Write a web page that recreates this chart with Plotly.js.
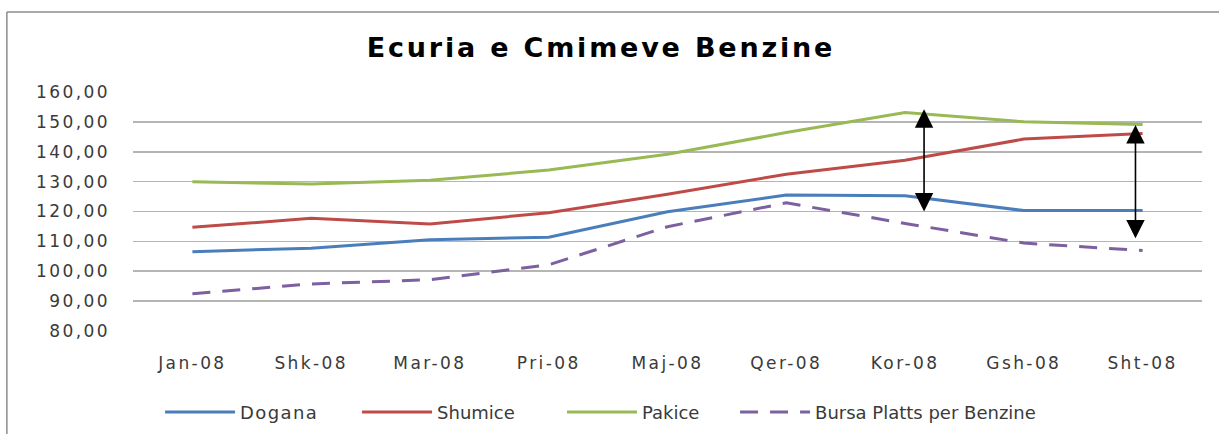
<!DOCTYPE html>
<html>
<head>
<meta charset="utf-8">
<script src="https://cdn.plot.ly/plotly-3.0.1.min.js"></script>
<style>
html,body{margin:0;padding:0;background:#fff;}
#chart{width:1219px;height:434px;}
.gtitle{letter-spacing:2.8px;}
.xtick text,.ytick text{letter-spacing:2.4px;}
.legendtext{letter-spacing:1.4px;}
</style>
</head>
<body>
<div id="chart"></div>
<script>
const months = ["Jan-08","Shk-08","Mar-08","Pri-08","Maj-08","Qer-08","Kor-08","Gsh-08","Sht-08"];
const dogana   = [106.5, 107.7, 110.5, 111.4, 119.9, 125.5, 125.3, 120.3, 120.3];
const shumice  = [114.7, 117.7, 115.8, 119.6, 125.8, 132.5, 137.2, 144.3, 146.2];
const pakice   = [130.0, 129.2, 130.5, 133.9, 139.2, 146.5, 153.2, 150.1, 149.2];
const bursa    = [92.4, 95.7, 97.1, 102.1, 114.9, 122.9, 116.0, 109.4, 106.9];
const yTicks   = [80, 90, 100, 110, 120, 130, 140, 150, 160];
const yTickText = ["80,00","90,00","100,00","110,00","120,00","130,00","140,00","150,00","160,00"];
// double-headed arrows (position along category axis, top value, bottom value)
const arrowX      = [6.16, 7.94];
const arrowTop    = [154.3, 149.0];
const arrowBottom = [119.5, 110.5];

const names = ["Dogana","Shumice","Pakice","Bursa Platts per Benzine"];
const series = [dogana, shumice, pakice, bursa];
const colors = ["#4A7EBB","#BE4B48","#98B954","#7D60A0"];
const dashes = ["solid","solid","solid","18px,12px"];
const legendIds = ["legend","legend2","legend3","legend4"];
const legendX = [0.1313, 0.2929, 0.4610, 0.6030];

const traces = series.map((s, i) => ({
  type: "scatter", mode: "lines", x: months, y: s, name: names[i], legend: legendIds[i],
  line: {color: colors[i], width: 3, dash: dashes[i]}
}));

const annotations = arrowX.map((ax, i) => ({
  x: ax, y: arrowTop[i], ax: ax, ay: arrowBottom[i],
  xref: "x", yref: "y", axref: "x", ayref: "y",
  text: "", showarrow: true, arrowhead: 2, startarrowhead: 2,
  arrowside: "end+start", arrowwidth: 1.6, arrowsize: 2.3, startarrowsize: 2.3,
  arrowcolor: "#000"
}));

const layout = {
  width: 1219, height: 434,
  margin: {l: 133, r: 17, t: 92, b: 103},
  paper_bgcolor: "#fff", plot_bgcolor: "#fff",
  title: {text: "Ecuria e Cmimeve Benzine", x: 0.493, xref: "container", y: 0.89, yref: "container", yanchor: "middle",
          font: {family: "DejaVu Sans", size: 27, color: "#000", weight: 700}},
  font: {family: "DejaVu Sans", color: "#3A3A3A"},
  xaxis: {type: "category", range: [-0.5, 8.5], showgrid: false, zeroline: false, showline: false,
          ticks: "", tickfont: {size: 17, color: "#3A3A3A"}, ticklabelstandoff: 20, fixedrange: true},
  yaxis: {range: [79.9, 160.1], tickvals: yTicks, ticktext: yTickText, showgrid: true, gridcolor: "#B5B5B5", gridwidth: 1.5,
          zeroline: false, showline: false, ticks: "", tickfont: {size: 17, color: "#3A3A3A"}, ticklabelstandoff: 22, fixedrange: true},
  showlegend: true,
  annotations: annotations,
  shapes: [
    {type: "line", xref: "paper", yref: "paper", x0: -0.118, x1: 1.1, y0: 1.335, y1: 1.335, line: {color: "#8C8C8C", width: 1.5}},
    {type: "line", xref: "paper", yref: "paper", x0: -0.118, x1: -0.118, y0: 1.335, y1: -0.5, line: {color: "#8C8C8C", width: 1.5}}
  ]
};
legendIds.forEach((id, i) => {
  layout[id] = {orientation: "h", x: legendX[i], xref: "container", xanchor: "left", y: 0.05, yref: "container", yanchor: "middle",
                font: {size: 18, color: "#3A3A3A"}, itemwidth: 70, bgcolor: "rgba(0,0,0,0)"};
});

Plotly.newPlot("chart", traces, layout, {displayModeBar: false, staticPlot: true});
</script>
</body>
</html>
